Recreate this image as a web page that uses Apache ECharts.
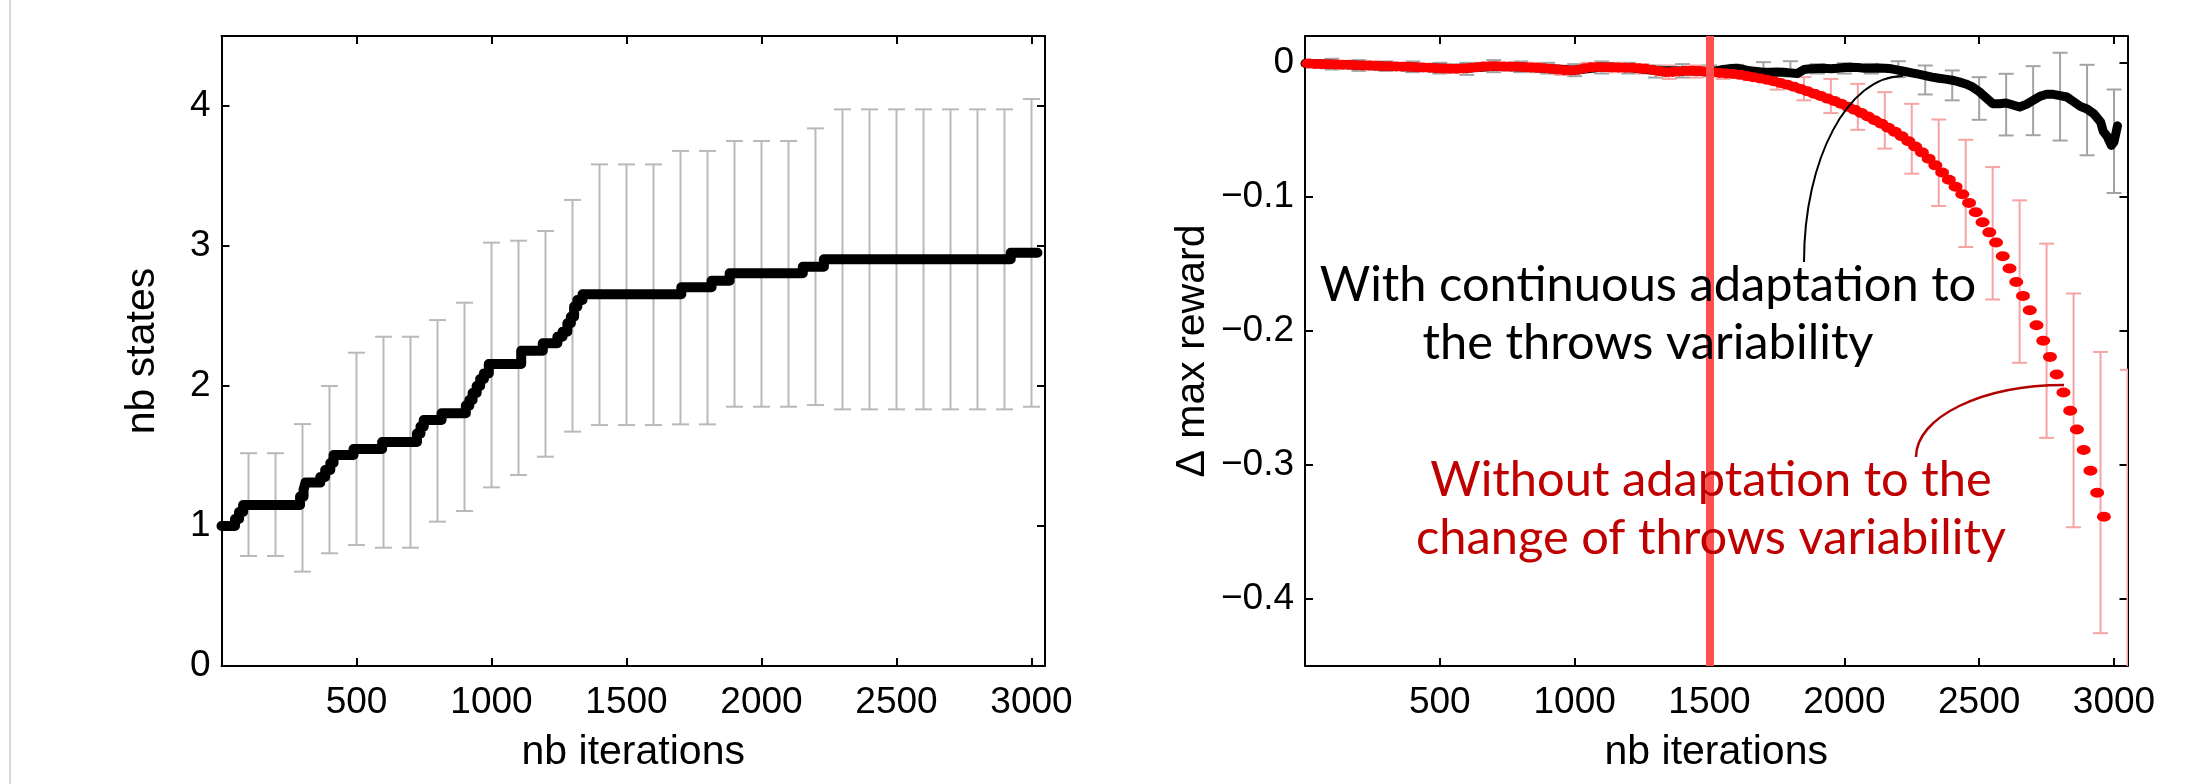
<!DOCTYPE html>
<html><head><meta charset="utf-8">
<script src="https://cdn.jsdelivr.net/npm/echarts@6/dist/echarts.min.js"></script>
<style>html,body{margin:0;padding:0;background:#fff;}#c{width:2210px;height:784px;}</style>
</head><body><div id="c"></div>
<script>
// ---------------- DATA ----------------
// Left panel: nb states (step curve, breakpoints: value holds from x until next x)
const statesX = [0,50,65,80,291,304,311,366,384,403,415,489,595,724,737,749,815,905,918,930,945,958,972,990,1110,1190,1244,1263,1281,1294,1306,1318,1337,1703,1815,1882,2153,2231,2923,3022];
const statesY = [1.00,1.05,1.10,1.15,1.21,1.26,1.31,1.35,1.40,1.45,1.507,1.55,1.60,1.66,1.71,1.757,1.805,1.86,1.90,1.95,2.00,2.05,2.09,2.157,2.252,2.305,2.352,2.388,2.448,2.495,2.567,2.614,2.655,2.705,2.752,2.805,2.852,2.905,2.952,2.952];
const statesErrX = [100,200,300,400,500,600,700,800,900,1000,1100,1200,1300,1400,1500,1600,1700,1800,1900,2000,2100,2200,2300,2400,2500,2600,2700,2800,2900,3000];
const statesErrLow = [0.786,0.786,0.674,0.805,0.864,0.845,0.845,1.031,1.107,1.276,1.364,1.495,1.674,1.721,1.721,1.721,1.726,1.726,1.852,1.852,1.852,1.864,1.833,1.833,1.833,1.833,1.833,1.833,1.833,1.852];
const statesErrHigh = [1.52,1.52,1.728,2.0,2.238,2.352,2.352,2.471,2.595,3.024,3.038,3.107,3.329,3.583,3.583,3.583,3.679,3.679,3.75,3.75,3.75,3.84,3.976,3.976,3.976,3.976,3.976,3.976,3.976,4.05];

// Right panel: without adaptation (red), sampled every 25 iterations starting at 12.5
const redStart = 12.5, redStep = 25;
const redY = [-0.0005,-0.0008,-0.001,-0.001,-0.0012,-0.0015,-0.0015,-0.0018,-0.002,-0.002,
 -0.0022,-0.0025,-0.0025,-0.0028,-0.003,-0.003,-0.0033,-0.0035,-0.0037,-0.004,
 -0.0042,-0.0045,-0.0045,-0.0042,-0.0038,-0.0033,-0.0028,-0.0025,-0.0025,-0.0027,
 -0.0028,-0.003,-0.0032,-0.0035,-0.0037,-0.004,-0.0045,-0.005,-0.0055,-0.0058,
 -0.0052,-0.004,-0.0033,-0.0032,-0.0033,-0.0034,-0.0035,-0.0036,-0.0037,-0.004,
 -0.0045,-0.0052,-0.0062,-0.007,-0.0068,-0.0064,-0.006,-0.006,-0.0062,-0.0066,
 -0.007,-0.0076,-0.008,-0.0083,-0.009,-0.0098,-0.0107,-0.0117,-0.0127,-0.0138,
 -0.015,-0.0163,-0.0178,-0.0195,-0.0212,-0.023,-0.0248,-0.0267,-0.0285,-0.0305,
 -0.0328,-0.035,-0.0375,-0.040,-0.0428,-0.0455,-0.0485,-0.0515,-0.0548,-0.0585,
 -0.0625,-0.0668,-0.0715,-0.0765,-0.0818,-0.0872,-0.0925,-0.098,-0.1045,-0.1115,
 -0.119,-0.1265,-0.134,-0.1443,-0.1535,-0.1635,-0.1739,-0.1846,-0.1958,-0.2074,
 -0.2194,-0.2325,-0.2459,-0.2596,-0.2735,-0.2889,-0.3043,-0.3207,-0.3386];
// Right panel: with continuous adaptation (black)
const blackX = [0,100,200,300,400,500,600,700,800,900,1000,1100,1200,1300,1400,1450,1500,1525,1550,1575,1600,1625,1650,1675,1700,1725,1750,1775,1800,1825,1850,1875,1900,1925,1950,1975,2000,2025,2050,2075,2100,2125,2150,2175,2200,2225,2250,2275,2300,2325,2350,2375,2400,2425,2450,2475,2500,2525,2550,2575,2600,2625,2650,2675,2700,2725,2750,2775,2800,2825,2850,2875,2900,2925,2950,2960,2975,2990,3000,3013];
const blackY = [-0.0005,-0.0011,-0.0019,-0.0025,-0.0031,-0.0041,-0.004,-0.0025,-0.0031,-0.0042,-0.0055,-0.0032,-0.0036,-0.0057,-0.0062,-0.0062,-0.0065,-0.006,-0.005,-0.0045,-0.004,-0.005,-0.006,-0.0065,-0.007,-0.007,-0.0068,-0.007,-0.0075,-0.008,-0.005,-0.0045,-0.0042,-0.004,-0.0045,-0.004,-0.0035,-0.0033,-0.0035,-0.004,-0.004,-0.0038,-0.004,-0.0045,-0.0055,-0.0065,-0.0075,-0.0085,-0.0095,-0.0107,-0.0115,-0.0122,-0.013,-0.0142,-0.0158,-0.018,-0.0215,-0.026,-0.0305,-0.0305,-0.030,-0.0315,-0.033,-0.031,-0.028,-0.025,-0.0235,-0.0235,-0.0245,-0.0255,-0.029,-0.0325,-0.0345,-0.038,-0.044,-0.051,-0.055,-0.0616,-0.059,-0.047];
const blackErrX = [100,200,300,400,500,600,700,800,900,1000,1100,1200,1300,1400,1500,1600,1700,1800,1900,2000,2100,2200,2300,2400,2500,2600,2700,2800,2900,3000];
const blackErrLow = [-0.005,-0.006,-0.006,-0.007,-0.008,-0.009,-0.007,-0.007,-0.008,-0.010,-0.008,-0.008,-0.011,-0.011,-0.010,-0.008,-0.008,-0.0102,-0.008,-0.008,-0.008,-0.0107,-0.0236,-0.028,-0.0425,-0.0542,-0.054,-0.058,-0.069,-0.0971];
const blackErrHigh = [0.003,0.002,0.001,0.001,0.0,0.0,0.002,0.001,0.0,-0.001,0.001,0.0,-0.002,-0.001,-0.002,-0.0015,0.0005,0.0012,-0.001,-0.0003,-0.0008,0.0012,-0.002,-0.0057,-0.0107,-0.0082,-0.0025,0.0075,-0.0015,-0.0199];
const redErrX = [50,150,250,350,450,550,650,750,850,950,1050,1150,1250,1350,1450,1550,1650,1750,1850,1950,2050,2150,2250,2350,2450,2550,2650,2750,2850,2950,3050];
const redErrLow = [-0.003,-0.004,-0.005,-0.005,-0.006,-0.007,-0.006,-0.006,-0.007,-0.009,-0.007,-0.007,-0.008,-0.012,-0.011,-0.012,-0.013,-0.020,-0.028,-0.0375,-0.050,-0.064,-0.0827,-0.1068,-0.1374,-0.1766,-0.2238,-0.2798,-0.3465,-0.4255,-0.52];
const redErrHigh = [0.002,0.001,0.001,0.0,-0.001,-0.002,0.0,0.0,0.0,-0.002,0.0,0.0,-0.001,-0.002,-0.002,-0.004,-0.004,-0.006,-0.0107,-0.012,-0.0157,-0.0219,-0.0306,-0.0423,-0.0574,-0.0778,-0.1026,-0.1349,-0.1721,-0.2157,-0.229];
const changeAt = 1500;

const xTicks = [500,1000,1500,2000,2500,3000];
const leftYTicks = [0,1,2,3,4];
const rightYTicks = [0,-0.1,-0.2,-0.3,-0.4];

const annoBlack = ['With continuous adaptation to', 'the throws variability'];
const annoRed = ['Without adaptation to the', 'change of throws variability'];

// ---------------- CHART ----------------
const FONT = "'Liberation Sans', Arial, Helvetica, sans-serif";
const ANNO_FONT = "Lato, 'Open Sans', sans-serif";
const chart = echarts.init(document.getElementById('c'), null, {renderer:'canvas', width:2210, height:784});

function pairs(xs, ys){ return xs.map((x,i)=>[x, ys[i]]); }
function triples(xs, lo, hi){ return xs.map((x,i)=>[x, lo[i], hi[i]]); }

function errRender(color, capW, lw){
  return function(params, api){
    const x = api.value(0), lo = api.value(1), hi = api.value(2);
    const a = api.coord([x, lo]), b = api.coord([x, hi]);
    const st = {stroke: color, lineWidth: lw, fill: null};
    return {type:'group', children:[
      {type:'line', shape:{x1:a[0], y1:a[1], x2:b[0], y2:b[1]}, style: st},
      {type:'line', shape:{x1:a[0]-capW/2, y1:a[1], x2:a[0]+capW/2, y2:a[1]}, style: st},
      {type:'line', shape:{x1:b[0]-capW/2, y1:b[1], x2:b[0]+capW/2, y2:b[1]}, style: st}
    ]};
  };
}

const axisLineStyle = {show:true, onZero:false, lineStyle:{color:'#000', width:2}};
const fmtX = v => String(Math.round(v));
function xAx(grid, pos, showLabels){
  return {type:'value', gridIndex:grid, position:pos, min:0, max:3050,
    axisLine: axisLineStyle,
    axisTick:{show:true, inside:true, length:8, customValues:xTicks, lineStyle:{color:'#000', width:2}},
    axisLabel:{show:showLabels, customValues:xTicks, color:'#000', fontFamily:FONT, fontSize:37, margin:18, formatter: fmtX},
    splitLine:{show:false},
    name: showLabels ? 'nb iterations' : '', nameLocation:'middle', nameGap:66,
    nameTextStyle:{color:'#000', fontFamily:FONT, fontSize:41}
  };
}
function yAx(grid, pos, min, max, ticks, showLabels, name, gap, fmt){
  return {type:'value', gridIndex:grid, position:pos, min:min, max:max,
    axisLine: axisLineStyle,
    axisTick:{show:true, inside:true, length:8, customValues:ticks, lineStyle:{color:'#000', width:2}},
    axisLabel:{show:showLabels, customValues:ticks, color:'#000', fontFamily:FONT, fontSize:37, margin:11, formatter: fmt},
    splitLine:{show:false},
    name: showLabels ? name : '', nameLocation:'middle', nameGap:gap,
    nameTextStyle:{color:'#000', fontFamily:FONT, fontSize:41}
  };
}
const fmtLeft = v => String(Math.round(v));
const fmtRight = v => (Math.abs(v) < 1e-9 ? '0' : '\u2212' + Math.abs(v).toFixed(1));

// fit annotation font to reference text width
const mctx = document.createElement('canvas').getContext('2d');
mctx.font = '44px ' + ANNO_FONT;
const w1 = mctx.measureText(annoBlack[0]).width;
const w2 = mctx.measureText(annoRed[1]).width;
const annoSize = Math.max(30, Math.min(60, 44 * (655/w1 + 591/w2) / 2));

function textEl(str, cx, baseline, color){
  return {type:'text', x:cx, y:baseline - 0.3*annoSize, z:100, silent:true,
    style:{text:str, fill:color, font: annoSize.toFixed(1) + 'px ' + ANNO_FONT, textAlign:'center', textVerticalAlign:'middle', verticalAlign:'middle'}};
}

const option = {
  animation:false,
  backgroundColor:'#fff',
  grid:[
    {left:221.5, top:36, width:823.5, height:630, outerBoundsMode:'none', containLabel:false},
    {left:1305, top:36, width:822.5, height:630, outerBoundsMode:'none', containLabel:false}
  ],
  xAxis:[ xAx(0,'bottom',true), xAx(0,'top',false), xAx(1,'bottom',true), xAx(1,'top',false) ],
  yAxis:[
    yAx(0,'left',0,4.5,leftYTicks,true,'nb states',58,fmtLeft),
    yAx(0,'right',0,4.5,leftYTicks,false,'',0,fmtLeft),
    yAx(1,'left',-0.45,0.02,rightYTicks,true,'\u0394 max reward',92,fmtRight),
    yAx(1,'right',-0.45,0.02,rightYTicks,false,'',0,fmtRight)
  ],
  series:[
    {type:'custom', name:'states err', xAxisIndex:0, yAxisIndex:0, silent:true, z:1, clip:true,
     renderItem: errRender('#b9b9b9', 17, 2), encode:{x:0, y:[1,2]},
     data: triples(statesErrX, statesErrLow, statesErrHigh)},
    {type:'line', name:'nb states', xAxisIndex:0, yAxisIndex:0, step:'end', showSymbol:false, silent:true, z:3, clip:false,
     lineStyle:{color:'#000', width:10, cap:'round', join:'round'},
     data: pairs(statesX, statesY)},
    {type:'custom', name:'black err', xAxisIndex:2, yAxisIndex:2, silent:true, z:1, clip:true,
     renderItem: errRender('#a3a3a3', 15, 2), encode:{x:0, y:[1,2]},
     data: triples(blackErrX, blackErrLow, blackErrHigh)},
    {type:'custom', name:'red err', xAxisIndex:2, yAxisIndex:2, silent:true, z:1, clip:true,
     renderItem: errRender('#f5a3a3', 15, 2), encode:{x:0, y:[1,2]},
     data: triples(redErrX, redErrLow, redErrHigh)},
    {type:'line', name:'with adaptation', xAxisIndex:2, yAxisIndex:2, showSymbol:false, silent:true, z:3, clip:false,
     lineStyle:{color:'#000', width:9, cap:'round', join:'round'},
     data: pairs(blackX, blackY)},
    {type:'scatter', name:'without adaptation', xAxisIndex:2, yAxisIndex:2, silent:true, z:4,
     symbol:'circle', symbolSize:[14,10], itemStyle:{color:'#ff0000', opacity:1},
     data: redY.map((v,i)=>[redStart + i*redStep, v]),
     markLine:{silent:true, symbol:['none','none'], animation:false, label:{show:false},
       lineStyle:{color:'#ff4f4f', width:8, type:'solid', opacity:1},
       emphasis:{disabled:true},
       data:[{xAxis:changeAt}]}}
  ],
  graphic:[
    {type:'rect', left:9, top:0, z:100, silent:true, shape:{width:2, height:784}, style:{fill:'#d9d9d9'}},
    textEl(annoBlack[0], 1648, 300, '#000'),
    textEl(annoBlack[1], 1648, 358, '#000'),
    textEl(annoRed[0], 1711, 495, '#c00000'),
    textEl(annoRed[1], 1711, 553, '#c00000'),
    {type:'bezierCurve', z:100, silent:true,
     shape:{x1:1804, y1:262, cpx1:1804, cpy1:159, cpx2:1848, cpy2:76, x2:1903, y2:76},
     style:{stroke:'#000', lineWidth:2, fill:null}},
    {type:'bezierCurve', z:100, silent:true,
     shape:{x1:1916, y1:457, cpx1:1916, cpy1:417, cpx2:1982, cpy2:385, x2:2064, y2:385},
     style:{stroke:'#b00000', lineWidth:2.5, fill:null}}
  ]
};
chart.setOption(option);
</script></body></html>
